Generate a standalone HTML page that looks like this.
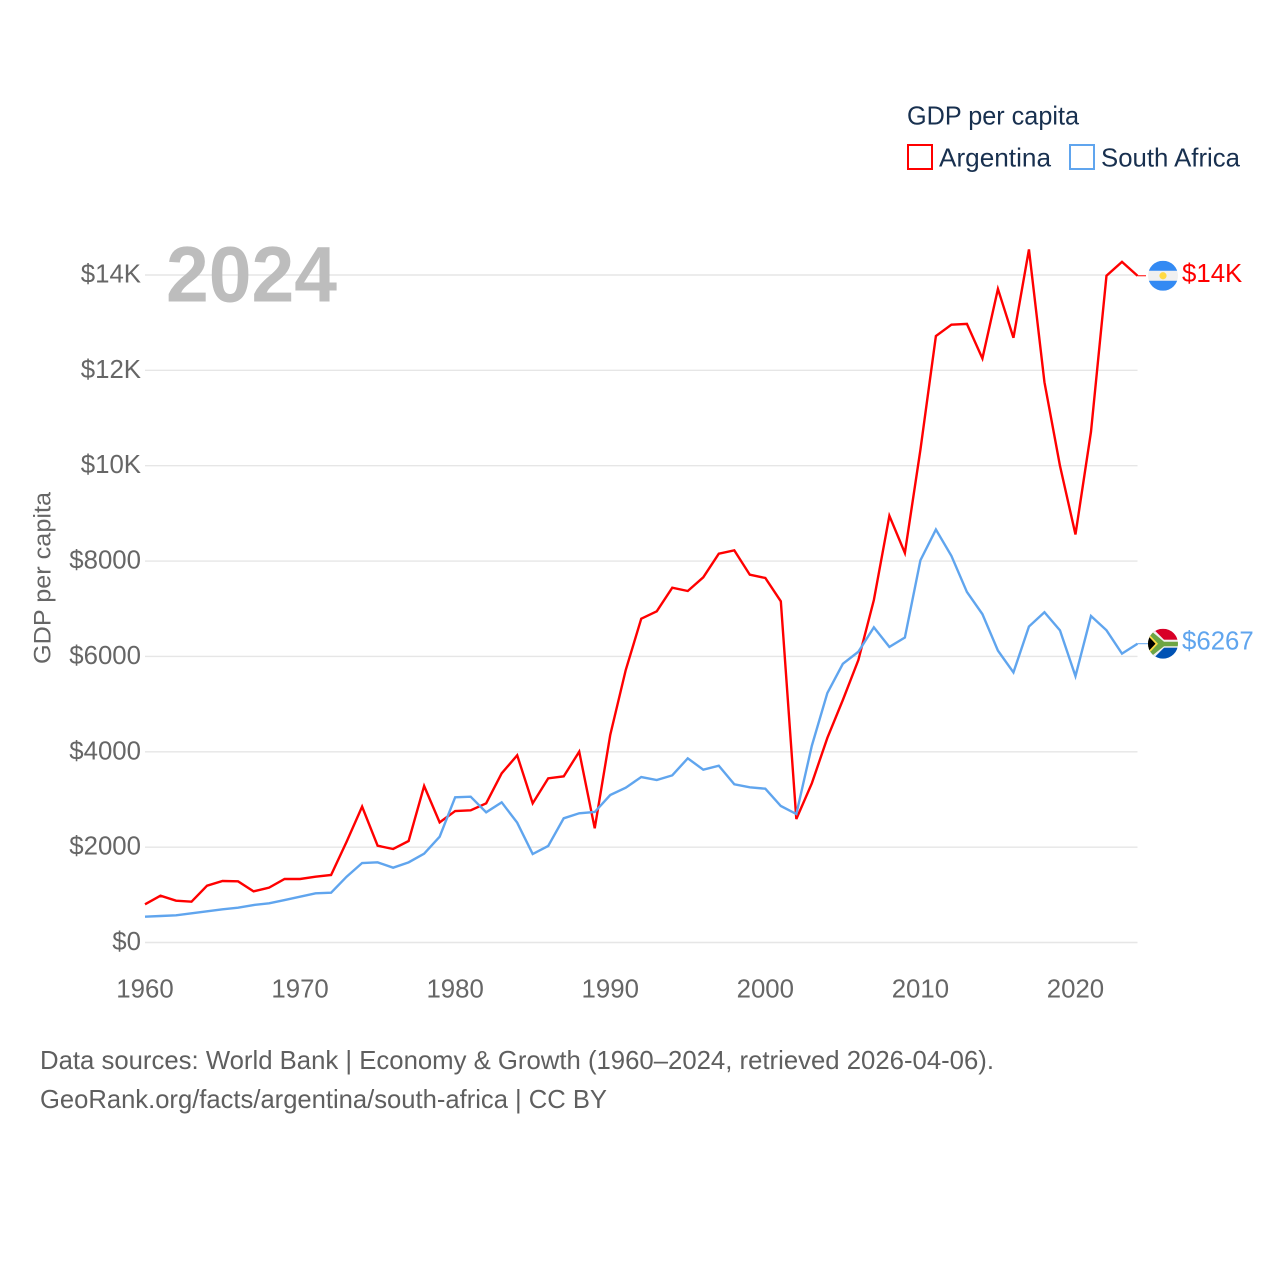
<!DOCTYPE html>
<html lang="en">
<head>
<meta charset="utf-8">
<title>GDP per capita: Argentina and South Africa</title>
<style>
  html, body { margin: 0; padding: 0; background: #fff; }
  svg { display: block; font-family: "Liberation Sans", sans-serif; }
  .tick { font-size: 25.8px; fill: #666; }
  .legend { font-size: 26px; fill: #18304f; }
  .foot { font-size: 26px; fill: #5f5f5f; }
</style>
</head>
<body>
<svg id="chart" width="1280" height="1280" viewBox="0 0 1280 1280" xmlns="http://www.w3.org/2000/svg">
  <defs>
    <clipPath id="flag-clip"><circle cx="0" cy="0" r="15"></circle></clipPath>
  </defs>
  <rect width="1280" height="1280" fill="#fff"></rect>

  <g id="grid"></g>
  <g id="y-ticks"></g>
  <g id="x-ticks"></g>

  <text transform="translate(50.5,664) rotate(-90)" font-size="24.5px" fill="#666" textLength="172" lengthAdjust="spacingAndGlyphs">GDP per capita</text>

  <text x="166" y="301.5" font-size="79px" font-weight="700" fill="#bdbdbd" textLength="171" lengthAdjust="spacingAndGlyphs">2024</text>

  <g id="series"></g>

  <g id="end-markers">
    <g id="flag-argentina">
      <g clip-path="url(#flag-clip)">
        <rect x="-15" y="-15" width="30" height="30" fill="#f0f0f0"></rect>
        <rect x="-15" y="-15" width="30" height="10" fill="#338af3"></rect>
        <rect x="-15" y="5" width="30" height="10" fill="#338af3"></rect>
        <circle cx="0" cy="0" r="3.6" fill="#ffda44"></circle>
      </g>
    </g>
    <g id="flag-south-africa">
      <g clip-path="url(#flag-clip)">
        <rect x="-15" y="-15" width="30" height="30" fill="#f0f0f0"></rect>
        <rect x="-15" y="-15" width="30" height="11" fill="#d80027"></rect>
        <rect x="-15" y="4" width="30" height="11" fill="#0052b4"></rect>
        <polygon points="-15,-15 -10,-15 2,-3 15,-3 15,3 2,3 -10,15 -15,15" fill="#f0f0f0"></polygon>
        <polygon points="-15,-12 -11,-12 1,-2 15,-2 15,2.5 1,2.5 -11,12 -15,12" fill="#6da544"></polygon>
        <polygon points="-15,-8 -7,0 -15,8" fill="#000"></polygon>
        <polygon points="-15,-10.5 -5,0 -15,10.5 -15,8 -7.5,0 -15,-8" fill="#ffda44"></polygon>
      </g>
    </g>
    <text id="value-argentina" x="1182" font-size="25.8px" fill="#ff0000"></text>
    <text id="value-south-africa" x="1182" font-size="25.8px" fill="#60a5ee"></text>
  </g>

  <g>
    <text class="legend" x="907" y="124.5" textLength="172" lengthAdjust="spacingAndGlyphs">GDP per capita</text>
    <rect x="908" y="145" width="24" height="24" fill="none" stroke="#ff0000" stroke-width="2"></rect>
    <text class="legend" x="939" y="166.5" textLength="112" lengthAdjust="spacingAndGlyphs">Argentina</text>
    <rect x="1070" y="145" width="24" height="24" fill="none" stroke="#60a5ee" stroke-width="2"></rect>
    <text class="legend" x="1101" y="166.5" textLength="139" lengthAdjust="spacingAndGlyphs">South Africa</text>
  </g>

  <g>
    <text class="foot" x="40" y="1069" textLength="954" lengthAdjust="spacingAndGlyphs">Data sources: World Bank | Economy &amp; Growth (1960–2024, retrieved 2026-04-06).</text>
    <text class="foot" x="40" y="1108" textLength="567" lengthAdjust="spacingAndGlyphs">GeoRank.org/facts/argentina/south-africa | CC BY</text>
  </g>
</svg>

<script>
const years = [1960,1961,1962,1963,1964,1965,1966,1967,1968,1969,1970,1971,1972,1973,1974,1975,1976,1977,1978,1979,1980,1981,1982,1983,1984,1985,1986,1987,1988,1989,1990,1991,1992,1993,1994,1995,1996,1997,1998,1999,2000,2001,2002,2003,2004,2005,2006,2007,2008,2009,2010,2011,2012,2013,2014,2015,2016,2017,2018,2019,2020,2021,2022,2023,2024];
const argentinaValues = [800,981,877,856,1191,1290,1283,1073,1150,1332,1332,1380,1416,2114,2849,2030,1961,2129,3283,2520,2758,2772,2919,3548,3926,2919,3443,3485,4002,2395,4352,5715,6791,6946,7442,7372,7659,8155,8225,7714,7645,7156,2590,3339,4290,5086,5925,7183,8950,8170,10330,12720,12959,12975,12250,13708,12683,14536,11752,10000,8558,10711,13984,14276,13984];
const southAfricaValues = [541,556,570,612,654,696,730,786,822,891,960,1031,1044,1380,1667,1681,1569,1681,1863,2219,3045,3058,2731,2940,2513,1856,2024,2605,2710,2737,3093,3247,3471,3408,3506,3863,3625,3708,3318,3255,3226,2863,2695,4127,5232,5846,6098,6610,6200,6397,8015,8661,8109,7352,6887,6122,5665,6627,6927,6548,5586,6847,6548,6059,6267];
const yTickValues = [0,2000,4000,6000,8000,10000,12000,14000];
const yTickLabels = ["$0","$2000","$4000","$6000","$8000","$10K","$12K","$14K"];
const xTickValues = [1960,1970,1980,1990,2000,2010,2020];
const xTickLabels = ["1960","1970","1980","1990","2000","2010","2020"];

const SVG_NS = "http://www.w3.org/2000/svg";
function xScale(year) { return 145 + (year - 1960) * (1137.5 - 145) / (2024 - 1960); }
function yScale(value) { return 942.5 - value * (942.5 - 275) / 14000; }
function formatValue(v) { return v >= 10000 ? "$" + Math.round(v / 1000) + "K" : "$" + Math.round(v); }
function make(tag) { return document.createElementNS(SVG_NS, tag); }

const gridGroup = document.getElementById("grid");
const yGroup = document.getElementById("y-ticks");
yTickValues.forEach(function (value, i) {
  const line = make("line");
  
  
  line.setAttribute("x1", 145);
  line.setAttribute("x2", 1137.5);
  line.setAttribute("y1", yScale(value));
  line.setAttribute("y2", yScale(value));
  line.setAttribute("stroke", "#e6e6e6");
  line.setAttribute("stroke-width", "1.4");
  gridGroup.appendChild(line);

  const label = make("text");
  
  
  label.setAttribute("class", "tick");
  label.setAttribute("x", 141);
  label.setAttribute("y", yScale(value) + 7.5);
  label.setAttribute("text-anchor", "end");
  label.textContent = yTickLabels[i];
  yGroup.appendChild(label);
});

const xGroup = document.getElementById("x-ticks");
xTickValues.forEach(function (year, i) {
  const label = make("text");
  
  
  label.setAttribute("class", "tick");
  label.setAttribute("x", xScale(year));
  label.setAttribute("y", 997.5);
  label.setAttribute("text-anchor", "middle");
  label.textContent = xTickLabels[i];
  xGroup.appendChild(label);
});

function linePoints(values) {
  return values.map(function (v, i) { return xScale(years[i]).toFixed(2) + "," + yScale(v).toFixed(2); }).join(" ");
}

const seriesGroup = document.getElementById("series");

const argentinaLine = make("polyline");


argentinaLine.setAttribute("points", linePoints(argentinaValues));
argentinaLine.setAttribute("fill", "none");
argentinaLine.setAttribute("stroke", "#ff0000");
argentinaLine.setAttribute("stroke-width", "2.4");
seriesGroup.appendChild(argentinaLine);

const southAfricaLine = make("polyline");


southAfricaLine.setAttribute("points", linePoints(southAfricaValues));
southAfricaLine.setAttribute("fill", "none");
southAfricaLine.setAttribute("stroke", "#60a5ee");
southAfricaLine.setAttribute("stroke-width", "2.4");
seriesGroup.appendChild(southAfricaLine);

const lastArgentina = argentinaValues[argentinaValues.length - 1];
const lastSouthAfrica = southAfricaValues[southAfricaValues.length - 1];

const argentinaConnector = make("line");


argentinaConnector.setAttribute("x1", xScale(2024));
argentinaConnector.setAttribute("x2", 1146);
argentinaConnector.setAttribute("y1", yScale(lastArgentina));
argentinaConnector.setAttribute("y2", yScale(lastArgentina));
argentinaConnector.setAttribute("stroke", "#ff0000");
argentinaConnector.setAttribute("stroke-width", "1");
seriesGroup.appendChild(argentinaConnector);

const southAfricaConnector = make("line");


southAfricaConnector.setAttribute("x1", xScale(2024));
southAfricaConnector.setAttribute("x2", 1148);
southAfricaConnector.setAttribute("y1", yScale(lastSouthAfrica));
southAfricaConnector.setAttribute("y2", yScale(lastSouthAfrica));
southAfricaConnector.setAttribute("stroke", "#60a5ee");
southAfricaConnector.setAttribute("stroke-width", "1");
seriesGroup.appendChild(southAfricaConnector);

document.getElementById("flag-argentina").setAttribute("transform", "translate(1163," + yScale(lastArgentina) + ")");
document.getElementById("flag-south-africa").setAttribute("transform", "translate(1163," + yScale(lastSouthAfrica) + ")");

const argentinaValueLabel = document.getElementById("value-argentina");
argentinaValueLabel.setAttribute("y", yScale(lastArgentina) + 6);
argentinaValueLabel.textContent = formatValue(lastArgentina);

const southAfricaValueLabel = document.getElementById("value-south-africa");
southAfricaValueLabel.setAttribute("y", yScale(lastSouthAfrica) + 6);
southAfricaValueLabel.textContent = formatValue(lastSouthAfrica);
</script>
</body>
</html>
